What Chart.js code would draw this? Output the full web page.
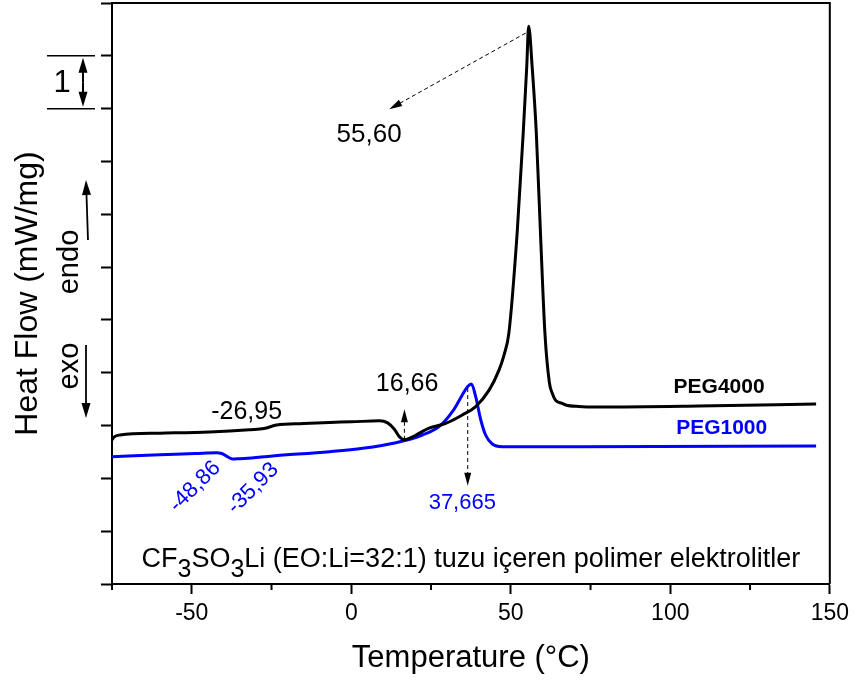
<!DOCTYPE html>
<html>
<head>
<meta charset="utf-8">
<style>
  html, body { margin: 0; padding: 0; background: #fff; }
  #wrap { width: 855px; height: 680px; }
</style>
<script src="https://cdn.jsdelivr.net/npm/chart.js@4"></script>
</head>
<body>
<div id="wrap"><canvas id="dsc" width="855" height="680"></canvas></div>
<script>
// DSC heating curves, PEG4000 / PEG1000 + CF3SO3Li (EO:Li = 32:1)
const FONT = "'Liberation Sans', Arial, sans-serif";

const tempTicks = [-75, -50, -25, 0, 25, 50, 75, 100, 125, 150];
const tempLabels = [-50, 0, 50, 100, 150];

// PEG4000 (black)
const peg4000Temp = [-75, -74.4, -72.5, -60, -44.4, -32, -28, -26.95, -23.4, -15, -6.8, 0, 8.8, 11.4,
  13.5, 15.2, 16.66, 18.3, 20.3, 24.4, 29.6, 34.8, 39.0, 43.2, 46.3, 47.9, 49.4, 52.0, 53.9, 55.0,
  55.6, 56.7, 58.0, 59.3, 60.7, 62.1, 63.0, 64.0, 66.1, 67.2, 71.3, 77.6, 108.8, 145.7];
const peg4000Flow = [2.73, 2.78, 2.82, 2.855, 2.88, 2.92, 2.94, 2.95, 3.01, 3.04, 3.06, 3.07, 3.09, 3.05,
  2.93, 2.78, 2.73, 2.76, 2.82, 2.95, 3.04, 3.20, 3.36, 3.67, 4.05, 4.34, 4.75, 6.65, 8.54, 9.79,
  10.56, 9.79, 8.54, 6.65, 4.75, 3.81, 3.61, 3.48, 3.42, 3.39, 3.36, 3.35, 3.37, 3.41];

// PEG1000 (blue)
const peg1000Temp = [-75, -60, -48.86, -42.3, -40.6, -37.2, -35.93, -33.4, -24.7, -6.8, 3.6, 14.0,
  22.3, 27.5, 31.7, 34.8, 36.5, 37.665, 39.0, 40.6, 42.1, 44.2, 47.3, 71.3, 145.7];
const peg1000Flow = [2.41, 2.445, 2.47, 2.486, 2.47, 2.367, 2.37, 2.376, 2.423, 2.505, 2.569, 2.675,
  2.821, 2.978, 3.262, 3.578, 3.74, 3.786, 3.546, 3.105, 2.821, 2.65, 2.599, 2.599, 2.613];

// peak / transition labels: [text, T, flow, colour, size, rotation]
const peakLabels = [
  ['55,60', 5.6, 8.50, '#000', 26, 0],
  ['16,66', 17.5, 3.79, '#000', 25, 0],
  ['-26,95', -32.8, 3.256, '#000', 25, 0],
  ['37,665', 34.8, 1.54, '#0000ff', 22, 0],
  ['-48,86', -49.0, 1.842, '#0000ff', 22, -45],
  ['-35,93', -30.8, 1.81, '#0000ff', 22, -45]
];
// dashed pointer arrows: [T0, flow0, T1, flow1] (head at the second point)
const pointers = [
  [54.64, 10.43, 11.9, 8.99],
  [16.66, 2.73, 16.66, 3.31],
  [36.5, 3.71, 36.5, 1.86]
];
const seriesNames = [['PEG4000', 115.3, 3.735, '#000'], ['PEG1000', 116.1, 2.948, '#0000ff']];

function toPoints(xs, ys) {
  return xs.map((x, i) => ({ x: x, y: ys[i] }));
}

function arrowHead(ctx, x1, y1, x2, y2, len, half) {
  const a = Math.atan2(y2 - y1, x2 - x1);
  ctx.beginPath();
  ctx.moveTo(x2, y2);
  ctx.lineTo(x2 - len * Math.cos(a) + half * Math.sin(a), y2 - len * Math.sin(a) - half * Math.cos(a));
  ctx.lineTo(x2 - len * Math.cos(a) - half * Math.sin(a), y2 - len * Math.sin(a) + half * Math.cos(a));
  ctx.closePath();
  ctx.fill();
}

function solidArrow(ctx, x1, y1, x2, y2) {
  const a = Math.atan2(y2 - y1, x2 - x1);
  ctx.beginPath();
  ctx.moveTo(x1, y1);
  ctx.lineTo(x2 - 10 * Math.cos(a), y2 - 10 * Math.sin(a));
  ctx.stroke();
  arrowHead(ctx, x1, y1, x2, y2, 15, 4.5);
}

const decorations = {
  id: 'decorations',
  afterDraw(chart) {
    const ctx = chart.ctx;
    const area = chart.chartArea;
    const xs = chart.scales.x, ys = chart.scales.y;
    const px = v => xs.getPixelForValue(v);
    const py = v => ys.getPixelForValue(v);
    ctx.save();
    ctx.strokeStyle = '#000';
    ctx.fillStyle = '#000';

    // top and right frame
    ctx.lineWidth = 2;
    ctx.beginPath();
    ctx.moveTo(area.left, area.top);
    ctx.lineTo(area.right, area.top);
    ctx.lineTo(area.right, area.bottom);
    ctx.stroke();

    // short minor ticks on the temperature axis
    tempTicks.filter(t => !tempLabels.includes(t)).forEach(t => {
      ctx.beginPath();
      ctx.moveTo(px(t), area.bottom);
      ctx.lineTo(px(t), area.bottom + 6);
      ctx.stroke();
    });

    // dashed pointers
    ctx.lineWidth = 1;
    pointers.forEach(p => {
      const x1 = px(p[0]), y1 = py(p[1]), x2 = px(p[2]), y2 = py(p[3]);
      const a = Math.atan2(y2 - y1, x2 - x1);
      ctx.setLineDash([4, 3]);
      ctx.beginPath();
      ctx.moveTo(x1, y1);
      ctx.lineTo(x2 - 12 * Math.cos(a), y2 - 12 * Math.sin(a));
      ctx.stroke();
      ctx.setLineDash([]);
      arrowHead(ctx, x1, y1, x2, y2, 13, 3.5);
    });

    // value labels
    ctx.textAlign = 'center';
    ctx.textBaseline = 'middle';
    peakLabels.forEach(l => {
      ctx.save();
      ctx.translate(px(l[1]), py(l[2]));
      ctx.rotate(l[5] * Math.PI / 180);
      ctx.fillStyle = l[3];
      ctx.font = l[4] + 'px ' + FONT;
      ctx.fillText(l[0], 0, 0);
      ctx.restore();
    });
    seriesNames.forEach(s => {
      ctx.fillStyle = s[3];
      ctx.font = 'bold 21px ' + FONT;
      ctx.fillText(s[0], px(s[1]), py(s[2]));
    });

    // caption with subscripts
    const parts = [['CF', 0], ['3', 1], ['SO', 0], ['3', 1], ['Li (EO:Li=32:1) tuzu içeren polimer elektrolitler', 0]];
    const mainFont = '27px ' + FONT, subFont = '25px ' + FONT;
    let total = 0;
    parts.forEach(p => { ctx.font = p[1] ? subFont : mainFont; total += ctx.measureText(p[0]).width; });
    let cx = (area.left + area.right) / 2 - total / 2;
    const cy = area.bottom - 24;
    ctx.textAlign = 'left';
    ctx.fillStyle = '#000';
    parts.forEach(p => {
      ctx.font = p[1] ? subFont : mainFont;
      ctx.fillText(p[0], cx, cy + (p[1] ? 10 : 0));
      cx += ctx.measureText(p[0]).width;
    });

    // scale bar "1" left of the axis
    ctx.lineWidth = 1.5;
    [10, 9].forEach(v => {
      ctx.beginPath();
      ctx.moveTo(47, py(v));
      ctx.lineTo(95, py(v));
      ctx.stroke();
    });
    ctx.lineWidth = 2;
    const midY = (py(10) + py(9)) / 2;
    solidArrow(ctx, 83, midY, 83, py(10) + 2);
    solidArrow(ctx, 83, midY, 83, py(9) - 2);
    ctx.textAlign = 'center';
    ctx.font = '31px ' + FONT;
    ctx.fillText('1', 62, midY + 1);

    // endo / exo direction
    ctx.lineWidth = 1.8;
    solidArrow(ctx, 88, 240, 86, 180);
    solidArrow(ctx, 86, 345, 86, 418);
    ctx.font = '29px ' + FONT;
    [['endo', 262], ['exo', 366]].forEach(t => {
      ctx.save();
      ctx.translate(70, t[1]);
      ctx.rotate(-Math.PI / 2);
      ctx.fillText(t[0], 0, 0);
      ctx.restore();
    });
    ctx.restore();
  }
};

new Chart(document.getElementById('dsc'), {
  type: 'line',
  data: {
    datasets: [
      { label: 'PEG4000', data: toPoints(peg4000Temp, peg4000Flow), borderColor: '#000', borderWidth: 3, cubicInterpolationMode: 'monotone' },
      { label: 'PEG1000', data: toPoints(peg1000Temp, peg1000Flow), borderColor: '#0000ff', borderWidth: 3, cubicInterpolationMode: 'monotone' }
    ]
  },
  options: {
    responsive: false,
    animation: false,
    layout: { padding: { left: 0, top: 3, right: 23, bottom: 0 } },
    elements: { point: { radius: 0 } },
    plugins: { legend: { display: false }, tooltip: { enabled: false } },
    scales: {
      x: {
        type: 'linear', min: -75, max: 150,
        afterBuildTicks: s => { s.ticks = tempTicks.map(v => ({ value: v })); },
        ticks: {
          autoSkip: false, maxRotation: 0, color: '#000', padding: 6,
          font: { family: FONT, size: 23 },
          callback: v => tempLabels.includes(v) ? String(v) : ''
        },
        grid: {
          drawOnChartArea: false, tickLength: 10, tickWidth: 2,
          tickColor: c => (c.tick && tempLabels.includes(c.tick.value)) ? '#000' : 'rgba(0,0,0,0)'
        },
        border: { color: '#000', width: 2 },
        title: { display: true, text: 'Temperature (°C)', color: '#000', font: { family: FONT, size: 31 }, padding: { top: 0, bottom: 3 } },
        afterFit: s => { s.height = 96; }
      },
      y: {
        min: 0, max: 11,
        ticks: { stepSize: 1, display: false },
        grid: { drawOnChartArea: false, tickLength: 11, tickWidth: 2, tickColor: '#000' },
        border: { color: '#000', width: 2 },
        title: { display: true, text: 'Heat Flow (mW/mg)', color: '#000', font: { family: FONT, size: 32 }, padding: { top: 9, bottom: 0 } },
        afterFit: s => { s.width = 112; }
      }
    }
  },
  plugins: [decorations]
});
</script>
</body>
</html>
